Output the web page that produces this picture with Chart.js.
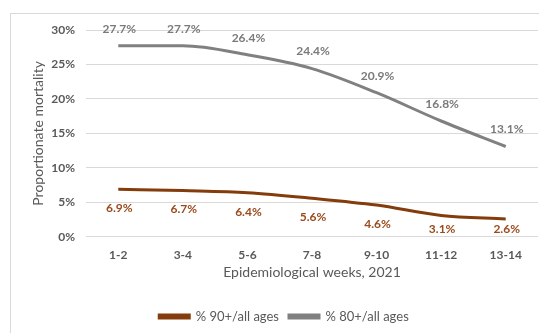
<!DOCTYPE html>
<html>
<head>
<meta charset="utf-8">
<script src="https://cdn.jsdelivr.net/npm/chart.js@4/dist/chart.umd.min.js"></script>
<style>
  html, body { margin: 0; padding: 0; background: #ffffff; }
  #frame { position: absolute; left: 10px; top: 13px; width: 600px; height: 400px;
           border-left: 1px solid #d9d9d9; border-top: 1px solid #d9d9d9; }
  #wrap { position: absolute; left: 0; top: 0; width: 539px; height: 333px; }
</style>
</head>
<body>
<div id="frame"></div>
<div id="wrap"><canvas id="c" width="539" height="333"></canvas></div>
<script>
const categories = ['1-2', '3-4', '5-6', '7-8', '9-10', '11-12', '13-14'];
const pct90 = [6.9, 6.7, 6.4, 5.6, 4.6, 3.1, 2.6];
const pct80 = [27.7, 27.7, 26.4, 24.4, 20.9, 16.8, 13.1];
const seriesNames = ['% 90+/all ages', '% 80+/all ages'];
const yTicks = [0, 5, 10, 15, 20, 25, 30];

const BROWN = '#843C0C';
const GRAY = '#808080';
const FONT = 'Lato, "Open Sans", sans-serif';

const labelPlugin = {
  id: 'valueLabels',
  afterDatasetsDraw(chart) {
    const ctx = chart.ctx;
    const y = chart.scales.y;
    ctx.save();
    ctx.font = 'bold 12px ' + FONT;
    ctx.textAlign = 'center';
    ctx.textBaseline = 'middle';
    chart.data.datasets.forEach((ds, di) => {
      const meta = chart.getDatasetMeta(di);
      meta.data.forEach((pt, i) => {
        const txt = ds.data[i].toFixed(1) + '%';
        let ly;
        if (ds.labelPos === 'above') {
          ly = pt.y - 17;
          ctx.fillStyle = '#7a7a7a';
        } else {
          ly = Math.min(pt.y + 19, y.getPixelForValue(0) - 8);
          ctx.fillStyle = '#9a4a1c';
        }
        ctx.fillText(txt, pt.x + 1, ly);
      });
    });
    ctx.restore();
  }
};

new Chart(document.getElementById('c'), {
  type: 'line',
  data: {
    labels: categories,
    datasets: [
      { label: seriesNames[0], data: pct90, borderColor: BROWN, backgroundColor: BROWN,
        borderWidth: 3, pointRadius: 0, tension: 0.4, cubicInterpolationMode: 'monotone', labelPos: 'below' },
      { label: seriesNames[1], data: pct80, borderColor: GRAY, backgroundColor: GRAY,
        borderWidth: 3, pointRadius: 0, tension: 0.4, cubicInterpolationMode: 'monotone', labelPos: 'above' }
    ]
  },
  options: {
    responsive: false,
    animation: false,
    layout: { padding: { left: 30, top: 30, right: 1, bottom: 0 } },
    plugins: {
      legend: {
        position: 'bottom',
        labels: { boxWidth: 30, boxHeight: 3, color: '#595959', font: { family: FONT, size: 13 }, padding: 10 }
      },
      tooltip: { enabled: false }
    },
    scales: {
      x: {
        offset: true,
        grid: { display: false, drawTicks: false },
        border: { display: false },
        ticks: { color: '#595959', font: { family: FONT, size: 12, weight: 'bold' }, padding: 11 },
        title: { display: true, text: 'Epidemiological weeks, 2021', color: '#595959',
                 font: { family: FONT, size: 14 }, padding: { top: -9, bottom: 19 } }
      },
      y: {
        min: 0, max: 30,
        afterBuildTicks(scale) { scale.ticks = yTicks.map(v => ({ value: v })); },
        grid: { color: '#d9d9d9', drawTicks: false, lineWidth: 1 },
        border: { display: false },
        ticks: { color: '#595959', font: { family: FONT, size: 12, weight: 'bold' }, padding: 11,
                 callback: v => v + '%' },
        title: { display: true, text: 'Proportionate mortality', color: '#595959',
                 font: { family: FONT, size: 14 }, padding: { top: 0, bottom: 4 } },
        afterFit(scale) { scale.width = 56; }
      }
    }
  },
  plugins: [labelPlugin]
});
</script>
</body>
</html>
